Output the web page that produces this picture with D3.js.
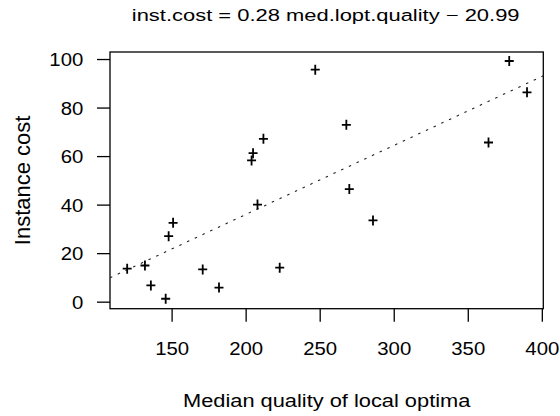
<!DOCTYPE html>
<html>
<head>
<meta charset="utf-8">
<script src="https://cdn.jsdelivr.net/npm/d3@7"></script>
<style>
  body { margin: 0; background: #fff; }
  text { font-family: "Liberation Sans", Arial, sans-serif; fill: #000; }
</style>
</head>
<body>
<div id="chart-area"></div>
<script>
// median quality of local optima vs instance cost
let quality = [120, 132, 136, 146, 148, 151, 171, 182, 204, 205, 208, 212, 223, 247, 268, 270, 286, 364, 378, 390]
let cost = [13.6, 14.9, 6.7, 1.2, 27, 32.5, 13.3, 5.8, 58.2, 61.2, 40, 67.1, 14, 95.6, 72.9, 46.4, 33.5, 65.6, 99.2, 86.3]

let xTicks = [150, 200, 250, 300, 350, 400]
let yTicks = [0, 20, 40, 60, 80, 100]
let xLimits = [108.4, 401]
let yLimits = [-2.9, 102.9]

// fitted line: intercept, slope (title shows them rounded)
let fitCoef = [-20.99, 0.2845]

let margin = {top: 52, right: 16.7, bottom: 107.3, left: 110}
let canvasWidth = 560 - margin.left - margin.right
let canvasHeight = 416 - margin.top - margin.bottom

let svg = d3.select("#chart-area").append("svg")
  .attr("width", 560)
  .attr("height", 416)

let group = svg.append("g")
  .attr("transform", "translate(" + margin.left + ", " + margin.top + ")")

let x = d3.scaleLinear().domain(xLimits).range([0, canvasWidth])
let y = d3.scaleLinear().domain(yLimits).range([canvasHeight, 0])

// title
svg.append("text")
  .attr("text-anchor", "middle")
  .attr("font-size", "16.5px")
  .attr("transform", "translate(" + (margin.left + canvasWidth / 2 - 1) + ", 21) scale(1.33, 1)")
  .text("inst.cost = 0.28 med.lopt.quality \u2212 20.99")

// X label
svg.append("text")
  .attr("text-anchor", "middle")
  .attr("font-size", "18.5px")
  .attr("transform", "translate(" + (margin.left + canvasWidth / 2) + ", 407.3) scale(1.18, 1)")
  .text("Median quality of local optima")

// Y label
svg.append("text")
  .attr("text-anchor", "middle")
  .attr("font-size", "22px")
  .attr("transform", "translate(30, " + (margin.top + canvasHeight / 2) + ") rotate(-90)")
  .text("Instance cost")

// axes
let xAxisCall = d3.axisBottom(x).tickValues(xTicks).tickSize(13)
let xAxis = group.append("g")
  .attr("transform", "translate(0, " + canvasHeight + ")")
  .call(xAxisCall)
xAxis.select(".domain").remove()
xAxis.selectAll("line").attr("stroke", "#000").attr("stroke-width", 1.3)
xAxis.selectAll("text")
  .attr("y", null).attr("dy", null)
  .attr("font-size", "18.5px")
  .attr("transform", "translate(0, 46.3) scale(1.1, 1)")

let yAxisCall = d3.axisLeft(y).tickValues(yTicks).tickSize(13)
let yAxis = group.append("g").call(yAxisCall)
yAxis.select(".domain").remove()
yAxis.selectAll("line").attr("stroke", "#000").attr("stroke-width", 1.3)
yAxis.selectAll("text")
  .attr("x", null).attr("dy", null)
  .attr("font-size", "18.5px")
  .attr("transform", "translate(-26.7, 6.7) scale(1.1, 1)")

svg.selectAll(".tick text").attr("font-family", null)

// box
group.append("rect")
  .attr("width", canvasWidth)
  .attr("height", canvasHeight)
  .attr("fill", "none")
  .attr("stroke", "#000")
  .attr("stroke-width", 1.3)

// clip for the fitted line
group.append("clipPath").attr("id", "plot-clip")
  .append("rect").attr("width", canvasWidth).attr("height", canvasHeight)

group.append("line")
  .attr("clip-path", "url(#plot-clip)")
  .attr("x1", x(xLimits[0]))
  .attr("y1", y(fitCoef[0] + fitCoef[1] * xLimits[0]))
  .attr("x2", x(xLimits[1]))
  .attr("y2", y(fitCoef[0] + fitCoef[1] * xLimits[1]))
  .attr("stroke", "#222")
  .attr("stroke-width", 1.1)
  .attr("stroke-dasharray", "2.5,6")

// points as "+"
group.selectAll(".pt")
  .data(quality)
  .enter()
  .append("path")
    .attr("class", "pt")
    .attr("d", "M-4.5,0H4.5M0,-5V5")
    .attr("transform", (q, i) => "translate(" + x(q) + ", " + y(cost[i]) + ")")
    .attr("stroke", "#000")
    .attr("stroke-width", 1.8)
    .attr("fill", "none")
</script>
</body>
</html>
